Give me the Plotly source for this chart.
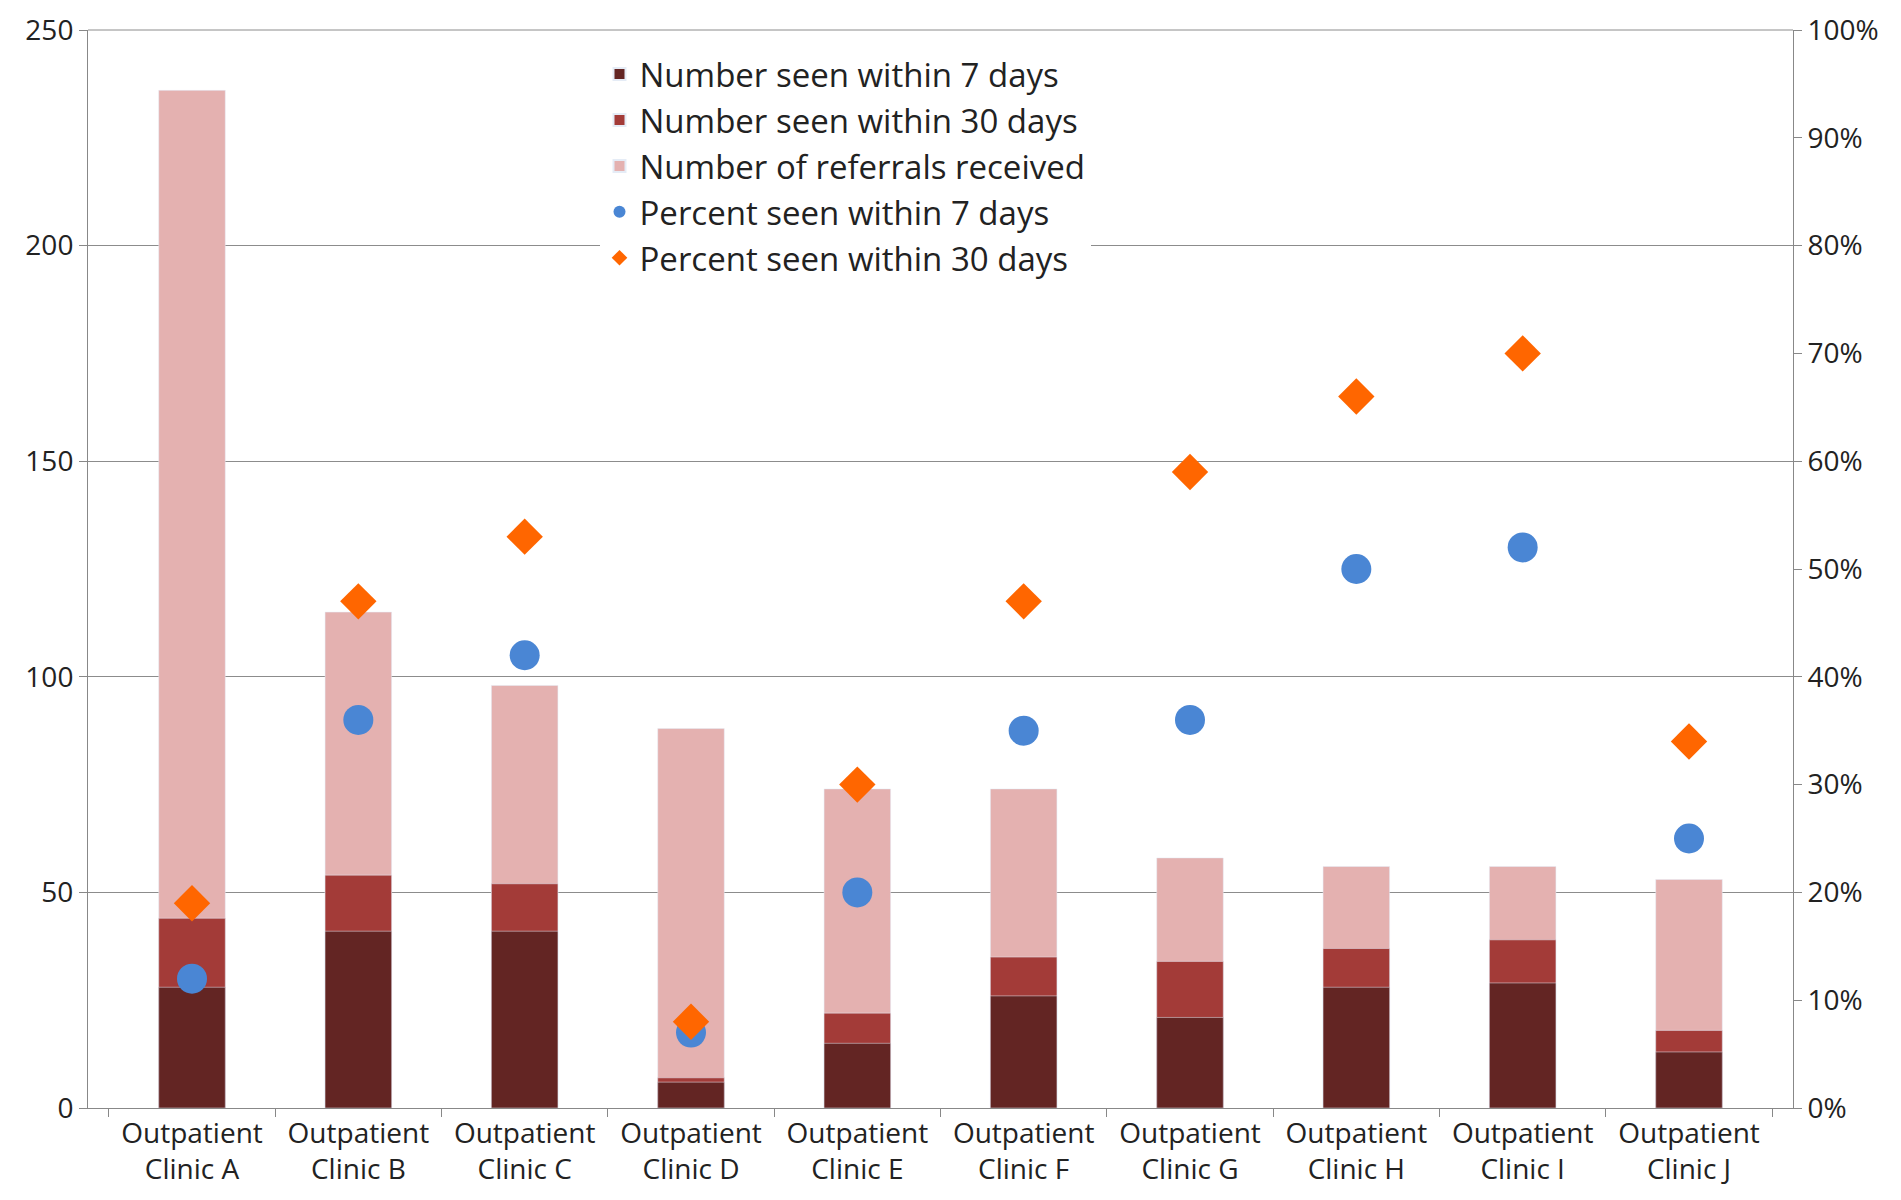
import plotly.graph_objs as go

clinics = ["Outpatient<br>Clinic " + c for c in "ABCDEFGHIJ"]
referrals = [236, 115, 98, 88, 74, 74, 58, 56, 56, 53]
seen_30 = [44, 54, 52, 7, 22, 35, 34, 37, 39, 18]
seen_7 = [28, 41, 41, 6, 15, 26, 21, 28, 29, 13]
pct_7 = [0.12, 0.36, 0.42, 0.07, 0.20, 0.35, 0.36, 0.50, 0.52, 0.25]
pct_30 = [0.19, 0.47, 0.53, 0.08, 0.30, 0.47, 0.59, 0.66, 0.70, 0.34]

font = dict(family="Open Sans", size=28, color="#222222")

# referrals drawn first so it sits behind; legendrank fixes the legend order
fig = go.Figure([
    go.Bar(name="Number of referrals received", x=clinics, y=referrals,
           marker=dict(color="#e4b1b0"), width=0.4, legendrank=3),
    go.Bar(name="Number seen within 30 days", x=clinics, y=seen_30,
           marker=dict(color="#a33b38"), width=0.4, legendrank=2),
    go.Bar(name="Number seen within 7 days", x=clinics, y=seen_7,
           marker=dict(color="#632523"), width=0.4, legendrank=1),
    go.Scatter(name="Percent seen within 7 days", x=clinics, y=pct_7, yaxis="y2",
               mode="markers", marker=dict(color="#4a86d4", size=30, symbol="circle"),
               legendrank=4),
    go.Scatter(name="Percent seen within 30 days", x=clinics, y=pct_30, yaxis="y2",
               mode="markers", marker=dict(color="#ff6600", size=28, symbol="diamond"),
               legendrank=5),
])

fig.update_layout(
    width=1901, height=1200,
    barmode="overlay",
    plot_bgcolor="white", paper_bgcolor="white",
    font=font,
    margin=dict(l=80, r=116, t=22, b=100),
    xaxis=dict(showline=True, linecolor="#888888", ticks="outside", tickcolor="#888888",
               ticklen=8, tickson="boundaries", showgrid=False, automargin=False),
    yaxis=dict(range=[0, 250], tickvals=[0, 50, 100, 150, 200, 250], showgrid=True,
               gridcolor="#8c8c8c", showline=True, linecolor="#888888", ticks="outside",
               tickcolor="#888888", ticklen=8, zeroline=False, ticklabeloverflow="allow",
               automargin=False),
    yaxis2=dict(range=[0, 1], tickvals=[i / 10 for i in range(11)], tickformat=".0%",
                overlaying="y", side="right", showgrid=False, showline=True,
                linecolor="#888888", ticks="outside", tickcolor="#888888", ticklen=8,
                zeroline=False, ticklabeloverflow="allow", automargin=False),
    legend=dict(x=0.3, y=0.985, xanchor="left", yanchor="top", bgcolor="white",
                font=dict(size=33), itemsizing="constant", borderwidth=0,
                tracegroupgap=0),
    shapes=[dict(type="line", xref="paper", yref="paper", x0=0, x1=1, y0=1, y1=1,
                 line=dict(color="#8c8c8c", width=1))],
)

fig.write_html("out.html")
